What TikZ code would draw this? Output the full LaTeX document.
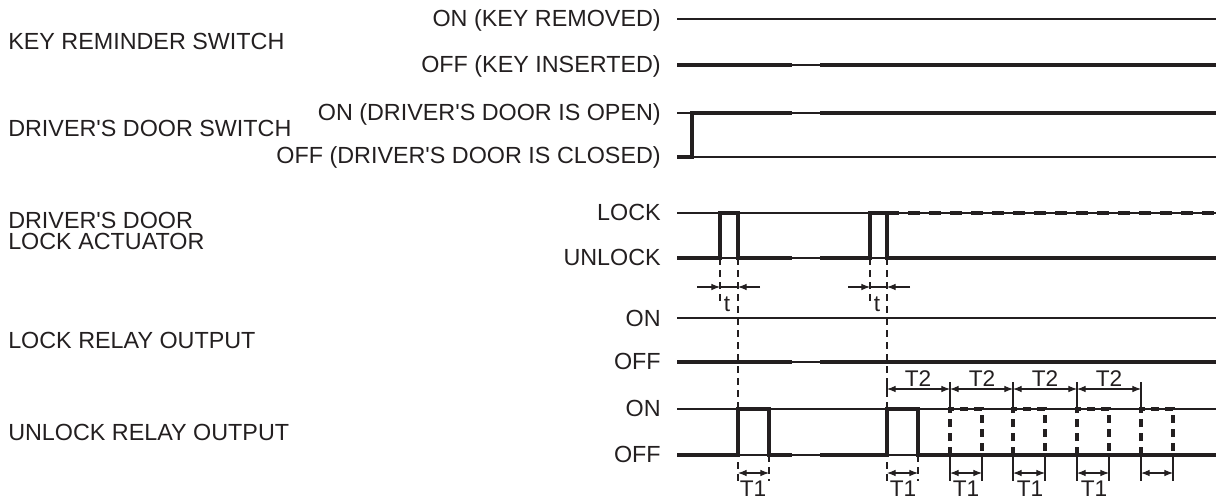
\documentclass[tikz,border=0pt]{standalone}
\usepackage{fontspec}
\setmainfont{Liberation Sans}[Ligatures=TeXOff]
\usetikzlibrary{arrows.meta}
\definecolor{ink}{HTML}{231F20}
\tikzset{
  lbl/.style={font=\fontsize{17.5}{15.75}\selectfont,inner sep=0pt},
  dimlbl/.style={font=\fontsize{17}{17}\selectfont,inner sep=0pt,anchor=base},
  lvl/.style={line width=1pt},
  wave/.style={line width=2.6pt},
  wavedash/.style={line width=2.6pt,dash pattern=on 9pt off 6.75pt},
  pulsedash/.style={line width=2.4pt,dash pattern=on 6pt off 4.5pt},
  guide/.style={line width=0.8pt,dash pattern=on 5.5pt off 3.5pt},
  tick/.style={line width=0.8pt},
  dim/.style={line width=0.8pt,{Latex[length=6.5pt,width=5pt]}-{Latex[length=6.5pt,width=5pt]}},
  inarrow/.style={line width=0.8pt,-{Latex[length=6.5pt,width=5pt]}}
}

\begin{document}
\begin{tikzpicture}[x=0.75pt,y=-0.75pt,color=ink]
\useasboundingbox (0,0) rectangle (1216,500);

% signal names
\node[lbl,anchor=base west] (keysw) at (8,49) {KEY REMINDER SWITCH};
\node[lbl,anchor=base west] (doorsw) at (8,136) {DRIVER'S DOOR SWITCH};
\node[lbl,anchor=north west,align=left] (act) at (8,212) {DRIVER'S DOOR\\LOCK ACTUATOR};
\node[lbl,anchor=base west] (lockrly) at (8,348) {LOCK RELAY OUTPUT};
\node[lbl,anchor=base west] (unlockrly) at (8,440) {UNLOCK RELAY OUTPUT};

% level names
\node[lbl,anchor=base east] (keyon) at (661,26) {ON (KEY REMOVED)};
\node[lbl,anchor=base east] (keyoff) at (661,72) {OFF (KEY INSERTED)};
\node[lbl,anchor=base east] (dooron) at (661,120) {ON (DRIVER'S DOOR IS OPEN)};
\node[lbl,anchor=base east] (dooroff) at (661,163) {OFF (DRIVER'S DOOR IS CLOSED)};
\node[lbl,anchor=base east] (actlock) at (661,220) {LOCK};
\node[lbl,anchor=base east] (actunlock) at (661,265) {UNLOCK};
\node[lbl,anchor=base east] (lockon) at (661,326) {ON};
\node[lbl,anchor=base east] (lockoff) at (661,369) {OFF};
\node[lbl,anchor=base east] (unlockon) at (661,416) {ON};
\node[lbl,anchor=base east] (unlockoff) at (661,462) {OFF};

% thin level lines
\draw[lvl] (677,19) -- (1216,19);
\draw[lvl] (677,65) -- (1216,65);
\draw[lvl] (677,113) -- (1216,113);
\draw[lvl] (677,157) -- (1216,157);
\draw[lvl] (677,213) -- (1216,213);
\draw[lvl] (677,258) -- (1216,258);
\draw[lvl] (677,318) -- (1216,318);
\draw[lvl] (677,362) -- (1216,362);
\draw[lvl] (677,409) -- (1216,409);
\draw[lvl] (677,455) -- (1216,455);

% guide lines
\draw[guide] (720,258) -- (720,305);
\draw[guide] (738,258) -- (738,481);
\draw[guide] (769,455) -- (769,481);
\draw[guide] (870,258) -- (870,305);
\draw[guide] (887,258) -- (887,481);
\draw[guide] (918,455) -- (918,481);

% key reminder switch
\draw[wave] (677,65) -- (792,65);
\draw[wave] (820,65) -- (1216,65);

% door switch
\draw[wave] (677,157) -- (692,157) -- (692,113) -- (792,113);
\draw[wave] (820,113) -- (1216,113);

% lock actuator
\draw[wave] (677,258) -- (720,258) -- (720,213) -- (738,213) -- (738,258) -- (792,258);
\draw[wave] (820,258) -- (870,258) -- (870,213) -- (887,213) -- (887,258) -- (1216,258);
\draw[wavedash] (887,213) -- (1216,213);

% lock relay
\draw[wave] (677,362) -- (792,362);
\draw[wave] (820,362) -- (1216,362);

% unlock relay
\draw[wave] (677,455) -- (738,455) -- (738,409) -- (769,409) -- (769,455) -- (792,455);
\draw[wave] (820,455) -- (887,455) -- (887,409) -- (918,409) -- (918,455) -- (1216,455);
\draw[pulsedash] (950,455) -- (950,409) -- (982,409) -- (982,455);
\draw[pulsedash] (1013,455) -- (1013,409) -- (1045,409) -- (1045,455);
\draw[pulsedash] (1077,455) -- (1077,409) -- (1109,409) -- (1109,455);
\draw[pulsedash] (1141,455) -- (1141,409) -- (1173,409) -- (1173,455);

% t
\draw[inarrow] (697,287) -- (720,287);
\draw[inarrow] (760,287) -- (738,287);
\draw[tick] (720,287) -- (738,287);
\node[dimlbl] (t1) at (727,311) {t};
\draw[inarrow] (848,287) -- (870,287);
\draw[inarrow] (910,287) -- (887,287);
\draw[tick] (870,287) -- (887,287);
\node[dimlbl] (t2) at (877,311) {t};

% T2
\draw[tick] (887,382) -- (887,396);
\draw[tick] (950,382) -- (950,409);
\draw[tick] (1013,382) -- (1013,409);
\draw[tick] (1077,382) -- (1077,409);
\draw[tick] (1141,382) -- (1141,409);
\draw[dim] (887,389) -- (950,389);
\draw[dim] (950,389) -- (1013,389);
\draw[dim] (1013,389) -- (1077,389);
\draw[dim] (1077,389) -- (1141,389);
\node[dimlbl] (tw1) at (918,386) {T2};
\node[dimlbl] (tw2) at (982,386) {T2};
\node[dimlbl] (tw3) at (1045,386) {T2};
\node[dimlbl] (tw4) at (1109,386) {T2};

% T1
\draw[tick] (950,455) -- (950,481);
\draw[tick] (982,455) -- (982,481);
\draw[tick] (1013,455) -- (1013,481);
\draw[tick] (1045,455) -- (1045,481);
\draw[tick] (1077,455) -- (1077,481);
\draw[tick] (1109,455) -- (1109,481);
\draw[tick] (1141,455) -- (1141,481);
\draw[tick] (1173,455) -- (1173,481);
\draw[dim] (738,473) -- (769,473);
\draw[dim] (887,473) -- (918,473);
\draw[dim] (950,473) -- (982,473);
\draw[dim] (1013,473) -- (1045,473);
\draw[dim] (1077,473) -- (1109,473);
\draw[dim] (1141,473) -- (1173,473);
\node[dimlbl] (tp1) at (753,496) {T1};
\node[dimlbl] (tp2) at (903,496) {T1};
\node[dimlbl] (tp3) at (966,496) {T1};
\node[dimlbl] (tp4) at (1030,496) {T1};
\node[dimlbl] (tp5) at (1094,496) {T1};

\end{tikzpicture}
\end{document}
